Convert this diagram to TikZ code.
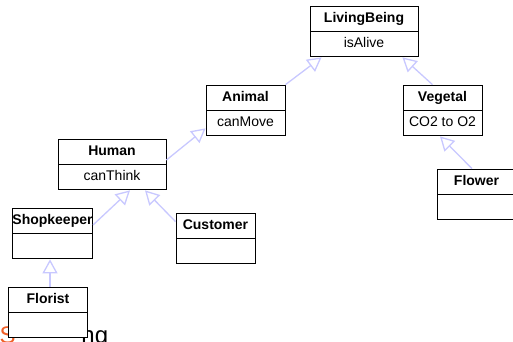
\documentclass[tikz,border=0pt]{standalone}
\usepackage{fontspec}
\setmainfont{Liberation Sans}
\usetikzlibrary{
  shapes.multipart, % Shape "rectangle split"
  arrows.meta,      % Tip "Triangle[open]"
  positioning       % Function "of" (e.g. [right=of x])
}
\definecolor{isacolor}{RGB}{200,200,255}
\definecolor{logocolor}{RGB}{240,96,40}
\def\myfont{\fontsize{14}{16}\selectfont}
\def\mylogofont{\fontsize{24}{26}\selectfont}
\tikzset{
  x=1pt,
  y=-1pt,
  uml class/.style={
    rectangle split,
    rectangle split parts=2,
    draw,
    fill=white,
    line width=0.9pt,
    minimum width=79pt,
    inner xsep=0pt,
    inner ysep=4.25pt,
    font=\myfont
  },
  wide class/.style={
    uml class,
    minimum width=108pt
  },
  isa/.style={
    draw=isacolor,
    line width=1.3pt,
    -{Triangle[open,length=14pt,width=15pt,fill=white]}
  },
  logo/.style={
    font=\mylogofont,
    inner sep=0pt
  }
}

\begin{document}
\begin{tikzpicture}
\useasboundingbox (0,0) rectangle (513,341);
% text partly hidden behind Florist
\node[logo,text=logocolor,anchor=base west] (logoS) at (-0.5,343) {S};
\node[logo,anchor=base east] (logoNg) at (108.3,343) {ng};
% classes
\node[wide class] (livingbeing) at (364,31.5) {\strut\textbf{LivingBeing}\nodepart{two}\strut isAlive};
\node[uml class] (animal) at (245.5,110.5) {\strut\textbf{Animal}\nodepart{two}\strut canMove};
\node[uml class] (vegetal) at (442.5,110.5) {\strut\textbf{Vegetal}\nodepart{two}\strut CO2 to O2};
\node[wide class] (human) at (112,164.5) {\strut\textbf{Human}\nodepart{two}\strut canThink};
\node[uml class] (flower) at (476.5,194.5) {\strut\textbf{Flower}\nodepart{two}\strut};
\node[uml class] (shopkeeper) at (52.5,233.5) {\strut\textbf{Shopkeeper}\nodepart{two}\strut};
\node[uml class] (customer) at (215.5,238.5) {\strut\textbf{Customer}\nodepart{two}\strut};
\node[uml class] (florist) at (48,312.5) {\strut\textbf{Florist}\nodepart{two}\strut};
% inheritance
\draw[isa] ([yshift=4.5pt]human.east) -- ([yshift=8pt]animal.south west);
\draw[isa] (animal.north east) -- ([xshift=12pt]livingbeing.south west);
\draw[isa] ([xshift=-10pt]vegetal.north) -- ([xshift=-16pt]livingbeing.south east);
\draw[isa] ([xshift=-4.5pt]flower.north) -- ([xshift=-2.5pt]vegetal.south);
\draw[isa] ([yshift=8.5pt]shopkeeper.east) -- ([xshift=18pt]human.south);
\draw[isa] ([yshift=-9pt]customer.north west) -- ([xshift=33pt]human.south);
\draw[isa] ([xshift=2pt]florist.north) -- ([xshift=-2.5pt]shopkeeper.south);
\end{tikzpicture}
\end{document}
